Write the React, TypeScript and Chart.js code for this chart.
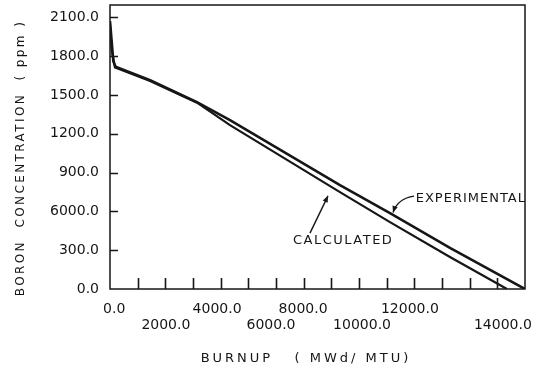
import React, { useEffect, useRef } from "react";
import { Chart, registerables } from "chart.js";

Chart.register(...registerables);

// ---- data ----
const BURNUP_EXP = [0, 120, 200, 1450, 3144, 4337, 8312, 10119, 12287, 15000];
const BORON_EXP = [2070, 1760, 1718, 1613, 1444, 1305, 803, 587, 317, 0];
const BURNUP_CALC = [0, 60, 180, 1450, 3144, 4337, 8312, 10119, 12287, 14348];
const BORON_CALC = [2040, 1850, 1712, 1608, 1440, 1266, 749, 517, 247, 0];

const X_MINOR_TICKS = [1000, 2000, 3000, 4000, 5000, 6000, 7000, 8000, 9000, 10000, 11000, 12000, 13000, 14000];
const X_LABELS = ["0.0", "2000.0", "4000.0", "6000.0", "8000.0", "10000.0", "12000.0", "14000.0"];
const X_LABEL_AT = [150, 2020, 3870, 5820, 6980, 9110, 10840, 14200];
const Y_TICKS = [0, 300, 600, 900, 1200, 1500, 1800, 2100];
const Y_LABELS = ["0.0", "300.0", "6000.0", "900.0", "1200.0", "1500.0", "1800.0", "2100.0"];

const X_TITLE = "BURNUP   ( MWd/ MTU)";
const Y_TITLE = "BORON  CONCENTRATION  ( ppm )";
const EXP_NOTE = "EXPERIMENTAL";
const CALC_NOTE = "CALCULATED";
// annotation anchors in data units [burnup, boron]
const EXP_NOTE_AT = [11050, 702];
const EXP_LEADER = [[10990, 718], [10400, 700], [10230, 592]];
const CALC_NOTE_AT = [6614, 371];
const CALC_ARROW = [[7228, 432], [7880, 720]];

const INK = "#161616";
const FONT = "'DejaVu Sans', sans-serif";

function arrowHead(ctx: CanvasRenderingContext2D, fx: number, fy: number, tx: number, ty: number) {
  const a = Math.atan2(ty - fy, tx - fx);
  const L = 7, W = 0.4;
  ctx.beginPath();
  ctx.moveTo(tx, ty);
  ctx.lineTo(tx - L * Math.cos(a - W), ty - L * Math.sin(a - W));
  ctx.lineTo(tx - L * Math.cos(a + W), ty - L * Math.sin(a + W));
  ctx.closePath();
  ctx.fill();
}

const decor = {
  id: "decor",
  afterDraw(chart: any) {
    const ctx: CanvasRenderingContext2D = chart.ctx;
    const xs = chart.scales.x, ys = chart.scales.y;
    const a = chart.chartArea;
    ctx.save();
    ctx.strokeStyle = INK;
    ctx.fillStyle = INK;
    // frame
    ctx.lineWidth = 1.5;
    ctx.strokeRect(a.left, a.top, a.right - a.left, a.bottom - a.top);
    // inward tick marks
    ctx.lineWidth = 1.6;
    ctx.beginPath();
    for (const v of X_MINOR_TICKS) {
      const px = Math.round(xs.getPixelForValue(v)) + 0.5;
      ctx.moveTo(px, a.bottom);
      ctx.lineTo(px, a.bottom - 11);
    }
    for (const v of Y_TICKS) {
      if (v === 0) continue;
      const py = Math.round(ys.getPixelForValue(v)) + 0.5;
      ctx.moveTo(a.left, py);
      ctx.lineTo(a.left + 8, py);
    }
    ctx.stroke();

    const P = (p: number[]) => [xs.getPixelForValue(p[0]), ys.getPixelForValue(p[1])];

    // annotations
    (ctx as any).letterSpacing = "1px";
    ctx.font = `13px ${FONT}`;
    ctx.textBaseline = "middle";
    ctx.textAlign = "left";
    const [ex, ey] = P(EXP_NOTE_AT);
    ctx.fillText(EXP_NOTE, ex, ey);
    const [cx, cy] = P(CALC_NOTE_AT);
    (ctx as any).letterSpacing = "1.5px";
    ctx.fillText(CALC_NOTE, cx, cy);

    ctx.lineWidth = 1.4;
    const l0 = P(EXP_LEADER[0]), l1 = P(EXP_LEADER[1]), l2 = P(EXP_LEADER[2]);
    ctx.beginPath();
    ctx.moveTo(l0[0], l0[1]);
    ctx.quadraticCurveTo(l1[0], l1[1], l2[0], l2[1]);
    ctx.stroke();
    arrowHead(ctx, l1[0], l1[1], l2[0], l2[1]);

    const c0 = P(CALC_ARROW[0]), c1 = P(CALC_ARROW[1]);
    ctx.beginPath();
    ctx.moveTo(c0[0], c0[1]);
    ctx.lineTo(c1[0], c1[1]);
    ctx.stroke();
    arrowHead(ctx, c0[0], c0[1], c1[0], c1[1]);

    // axis titles
    (ctx as any).letterSpacing = "3px";
    ctx.textAlign = "center";
    ctx.font = `13px ${FONT}`;
    ctx.fillText(X_TITLE, 306, 359);
    (ctx as any).letterSpacing = "2.4px";
    ctx.translate(21, 158);
    ctx.rotate(-Math.PI / 2);
    ctx.font = `12px ${FONT}`;
    ctx.fillText(Y_TITLE, 0, 0);
    ctx.restore();
  },
};

export default function App() {
  const ref = useRef<HTMLCanvasElement>(null);
  useEffect(() => {
    if (!ref.current) return;
    const chart = new Chart(ref.current, {
      type: "line",
      data: {
        datasets: [
          {
            label: EXP_NOTE,
            data: BURNUP_EXP.map((x, i) => ({ x, y: BORON_EXP[i] })),
            borderColor: INK,
            borderWidth: 2.6,
            pointRadius: 0,
            tension: 0,
          },
          {
            label: CALC_NOTE,
            data: BURNUP_CALC.map((x, i) => ({ x, y: BORON_CALC[i] })),
            borderColor: INK,
            borderWidth: 2.2,
            pointRadius: 0,
            tension: 0,
          },
        ],
      },
      options: {
        responsive: false,
        animation: false,
        layout: { padding: { left: 0, right: 14, top: 5, bottom: 0 } },
        plugins: { legend: { display: false }, tooltip: { enabled: false } },
        scales: {
          x: {
            type: "linear",
            min: 0,
            max: 15000,
            grid: { display: false },
            border: { display: false },
            afterBuildTicks: (s: any) => {
              s.ticks = X_LABEL_AT.map((v) => ({ value: v }));
            },
            afterFit: (s: any) => {
              s.height = 85;
              s.paddingLeft = 0;
              s.paddingRight = 0;
            },
            ticks: {
              autoSkip: false,
              maxRotation: 0,
              minRotation: 0,
              padding: 4,
              color: INK,
              font: { family: FONT, size: 14, lineHeight: 1.15 },
              callback: (_v: any, i: number) => (i % 2 === 0 ? [X_LABELS[i], ""] : ["", X_LABELS[i]]),
            },
          },
          y: {
            type: "linear",
            min: 0,
            max: 2195,
            grid: { display: false },
            border: { display: false },
            afterBuildTicks: (s: any) => {
              s.ticks = Y_TICKS.map((v) => ({ value: v }));
            },
            afterFit: (s: any) => {
              s.width = 110;
              s.paddingTop = 0;
              s.paddingBottom = 0;
            },
            ticks: {
              autoSkip: false,
              padding: 3,
              color: INK,
              font: { family: FONT, size: 14 },
              callback: (_v: any, i: number) => Y_LABELS[i],
            },
          },
        },
      },
      plugins: [decor],
    });
    return () => chart.destroy();
  }, []);
  return (
    <div style={{ position: "fixed", left: 0, top: 0, width: 539, height: 374, background: "#fff" }}>
      <canvas ref={ref} width={539} height={374} />
    </div>
  );
}
